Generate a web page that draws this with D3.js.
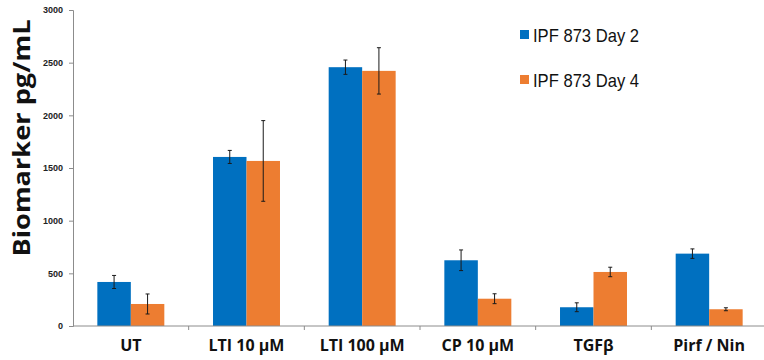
<!DOCTYPE html>
<html>
<head>
<meta charset="utf-8">
<script src="https://cdn.jsdelivr.net/npm/d3@7/dist/d3.min.js"></script>
<style>
  html, body { margin: 0; padding: 0; background: #fff; }
  svg { display: block; }
</style>
</head>
<body>
<svg id="chart" width="764" height="360"></svg>
<script>
const categories = ["UT", "LTI 10 \u00b5M", "LTI 100 \u00b5M", "CP 10 \u00b5M", "TGF\u03b2", "Pirf / Nin"];
const seriesNames = ["IPF 873 Day 2", "IPF 873 Day 4"];
const day2Values = [418, 1605, 2457, 624, 178, 687];
const day2Errors = [62, 62, 68, 98, 42, 45];
const day4Values = [209, 1567, 2422, 259, 513, 159];
const day4Errors = [95, 383, 220, 47, 45, 14];
const yTicks = [0, 500, 1000, 1500, 2000, 2500, 3000];
const colors = ["#0070C0", "#ED7D31"];

const svg = d3.select("#chart");
const plotLeft = 73, plotRight = 767, plotTop = 10, plotBottom = 326;

const x0 = d3.scaleBand().domain(categories).range([plotLeft, plotRight]).paddingInner(0).paddingOuter(0);
const x1 = d3.scaleBand().domain(seriesNames).range([0, x0.bandwidth()]).paddingInner(0).paddingOuter(0.727);
const y = d3.scaleLinear().domain([0, 3000]).range([plotBottom, plotTop]);

const data = categories.map((c, i) => ({
  cat: c,
  vals: [
    { s: seriesNames[0], v: day2Values[i], e: day2Errors[i], c: colors[0] },
    { s: seriesNames[1], v: day4Values[i], e: day4Errors[i], c: colors[1] }
  ]
}));

// Bars
const groups = svg.append("g").selectAll("g").data(data).join("g")
  .attr("transform", d => `translate(${x0(d.cat)},0)`);
groups.selectAll("rect").data(d => d.vals).join("rect")
  .attr("x", d => x1(d.s))
  .attr("y", d => y(d.v))
  .attr("width", x1.bandwidth())
  .attr("height", d => y(0) - y(d.v))
  .attr("fill", d => d.c);

// Error bars
const eb = groups.selectAll("g.err").data(d => d.vals).join("g").attr("class", "err")
  .attr("stroke", "#1a1a1a").attr("stroke-width", 1);
eb.append("line")
  .attr("x1", d => x1(d.s) + x1.bandwidth() / 2)
  .attr("x2", d => x1(d.s) + x1.bandwidth() / 2)
  .attr("y1", d => y(d.v + d.e))
  .attr("y2", d => y(d.v - d.e));
eb.append("line")
  .attr("x1", d => x1(d.s) + x1.bandwidth() / 2 - 2)
  .attr("x2", d => x1(d.s) + x1.bandwidth() / 2 + 2)
  .attr("y1", d => y(d.v + d.e)).attr("y2", d => y(d.v + d.e));
eb.append("line")
  .attr("x1", d => x1(d.s) + x1.bandwidth() / 2 - 2)
  .attr("x2", d => x1(d.s) + x1.bandwidth() / 2 + 2)
  .attr("y1", d => y(d.v - d.e)).attr("y2", d => y(d.v - d.e));

// Y axis
const yAxis = d3.axisLeft(y).tickValues(yTicks).tickSize(4).tickPadding(6).tickFormat(d3.format("d"));
const yg = svg.append("g").attr("transform", `translate(${plotLeft},0)`).call(yAxis);
yg.select(".domain").attr("stroke", "#8c8c8c");
yg.selectAll(".tick line").attr("stroke", "#8c8c8c");
yg.selectAll(".tick text").attr("font-family", "Liberation Sans, Arial, sans-serif")
  .attr("font-size", 9).attr("font-weight", "bold").attr("fill", "#222");

// X axis
const xg = svg.append("g").attr("transform", `translate(0,${plotBottom})`);
xg.append("line").attr("x1", plotLeft).attr("x2", 764).attr("y1", 0).attr("y2", 0).attr("stroke", "#8c8c8c");
xg.selectAll("line.tk").data(categories.slice(1)).join("line").attr("class", "tk")
  .attr("x1", d => x0(d)).attr("x2", d => x0(d)).attr("y1", 0).attr("y2", 4).attr("stroke", "#8c8c8c");
xg.selectAll("text").data(categories).join("text")
  .attr("x", d => x0(d) + x0.bandwidth() / 2)
  .attr("y", 25)
  .attr("text-anchor", "middle")
  .attr("font-family", "Open Sans, sans-serif")
  .attr("font-size", 16).attr("font-weight", "bold").attr("fill", "#111")
  .text(d => d);

// Y label
svg.append("text")
  .attr("transform", "translate(30,138) rotate(-90)")
  .attr("text-anchor", "middle")
  .attr("font-family", "Open Sans, sans-serif")
  .attr("font-size", 23).attr("font-weight", "bold").attr("fill", "#111")
  .attr("textLength", 237).attr("lengthAdjust", "spacingAndGlyphs")
  .text("Biomarker pg/mL");

// Legend
const lg = svg.append("g").selectAll("g").data(seriesNames).join("g")
  .attr("transform", (d, i) => `translate(520,${30 + i * 45})`);
lg.append("rect").attr("width", 9).attr("height", 9).attr("fill", (d, i) => colors[i]);
lg.append("text").attr("x", 13).attr("y", 12)
  .attr("font-family", "Liberation Sans, Arial, sans-serif")
  .attr("font-size", 19).attr("fill", "#111")
  .attr("textLength", 106).attr("lengthAdjust", "spacingAndGlyphs")
  .text(d => d);
</script>
</body>
</html>
